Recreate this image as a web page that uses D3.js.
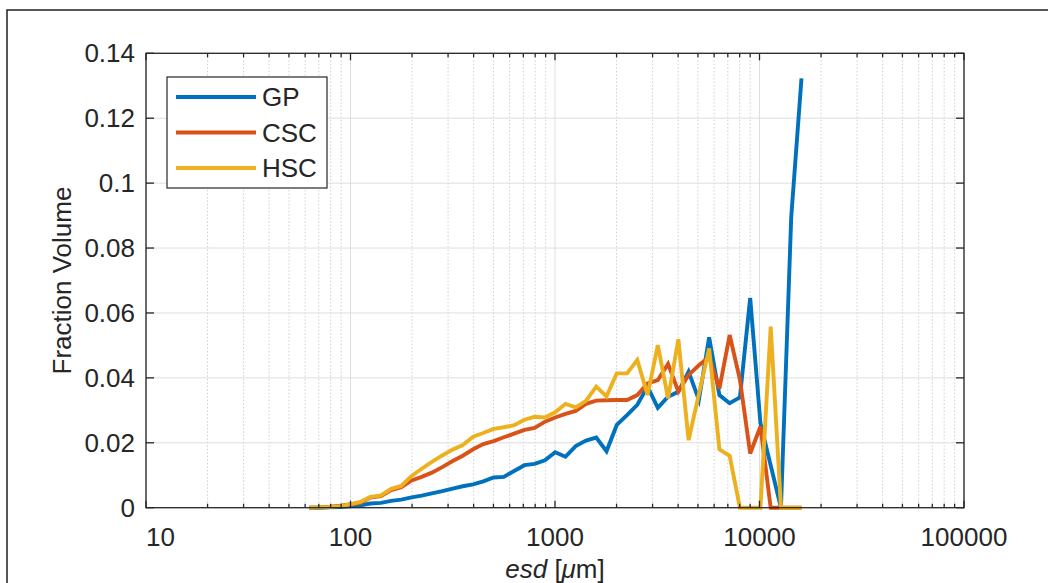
<!DOCTYPE html>
<html>
<head>
<meta charset="utf-8">
<script src="https://cdn.jsdelivr.net/npm/d3@7"></script>
<style>
  html, body { margin: 0; padding: 0; background: #fff; overflow: hidden; }
  text { font-family: "Liberation Sans", Arial, sans-serif; fill: #262626; }
</style>
</head>
<body>
<div id="psd_viz"></div>
<script>
// Data
const esdBins = [63, 70, 79, 89, 99, 112, 125, 141, 158, 177, 199, 223, 250, 281, 316, 354,
  398, 446, 501, 562, 631, 709, 795, 893, 1002, 1125, 1263, 1417, 1591, 1786, 2005, 2250,
  2526, 2835, 3183, 3572, 4010, 4501, 5053, 5672, 6366, 7146, 8021, 9004, 10107, 11345,
  12735, 14295, 16046];

const gpValues = [0, 0, 0.0001, 0.0002, 0.0004, 0.0007, 0.0013, 0.0015, 0.0021, 0.0025,
  0.0032, 0.0037, 0.0044, 0.0051, 0.0059, 0.0066, 0.0072, 0.0081, 0.0093, 0.0095, 0.0113,
  0.0131, 0.0135, 0.0146, 0.0171, 0.0157, 0.0190, 0.0207, 0.0216, 0.0174, 0.0255, 0.0285,
  0.0317, 0.0373, 0.0308, 0.0342, 0.0357, 0.0419, 0.0332, 0.0525, 0.0347, 0.0322, 0.0340,
  0.0646, 0.0260, 0.0130, 0, 0.0896, 0.1323];

const cscValues = [0, 0.0001, 0.0003, 0.0006, 0.0010, 0.0015, 0.0031, 0.0036, 0.0054, 0.0063,
  0.0084, 0.0095, 0.0108, 0.0125, 0.0144, 0.0160, 0.0180, 0.0196, 0.0205, 0.0217, 0.0228,
  0.0240, 0.0246, 0.0265, 0.0278, 0.0289, 0.0298, 0.0320, 0.0330, 0.0331, 0.0332, 0.0332,
  0.0347, 0.0383, 0.0393, 0.0443, 0.0358, 0.0409, 0.0439, 0.0464, 0.0367, 0.0532, 0.0395,
  0.0167, 0.0250, 0, 0, 0, 0];

const hscValues = [0, 0.0001, 0.0002, 0.0005, 0.0010, 0.0018, 0.0033, 0.0038, 0.0058, 0.0067,
  0.0098, 0.0120, 0.0141, 0.0161, 0.0179, 0.0193, 0.0219, 0.0230, 0.0243, 0.0248, 0.0254,
  0.0271, 0.0280, 0.0278, 0.0294, 0.0320, 0.0309, 0.0329, 0.0373, 0.0343, 0.0414, 0.0414,
  0.0455, 0.0347, 0.0501, 0.0337, 0.0519, 0.0208, 0.0350, 0.0491, 0.0180, 0.0160, 0,
  0, 0, 0.0558, 0, 0, 0];

const seriesNames = ["GP", "CSC", "HSC"];
const seriesColors = ["#0072BD", "#D95319", "#EDB120"];

const xTickValues = [10, 100, 1000, 10000, 100000];
const xTickLabels = ["10", "100", "1000", "10000", "100000"];
const yTickValues = [0, 0.02, 0.04, 0.06, 0.08, 0.1, 0.12, 0.14];
const yTickLabels = ["0", "0.02", "0.04", "0.06", "0.08", "0.1", "0.12", "0.14"];

// Set up dimensions
let dimensions = {
  width: 1048,
  height: 583,
  margin: {top: 53.3, right: 84, bottom: 75.3, left: 146},
}
dimensions.boundedWidth = dimensions.width - dimensions.margin.left - dimensions.margin.right
dimensions.boundedHeight = dimensions.height - dimensions.margin.top - dimensions.margin.bottom

// Set up scales
const xScale = d3.scaleLog()
  .domain([10, 100000])
  .range([0, dimensions.boundedWidth]);

const yScale = d3.scaleLinear()
  .domain([0, 0.14])
  .range([dimensions.boundedHeight, 0]);

const axisColor = "#262626";
const fontSize = 26;

function drawChart() {
  const svg = d3.select("#psd_viz")
    .append("svg")
      .attr("width", dimensions.width)
      .attr("height", dimensions.height)

  // Outer figure frame (cropped at right and bottom)
  svg.append("rect")
    .attr("x", 7)
    .attr("y", 10)
    .attr("width", 1200)
    .attr("height", 800)
    .attr("fill", "none")
    .attr("stroke", "#222")
    .attr("stroke-width", 1.5)

  const bounds = svg.append("g")
    .attr("transform", `translate(${dimensions.margin.left}, ${dimensions.margin.top})`)

  // Grid
  const grid = bounds.append("g")
  const minorX = xScale.ticks().filter(d => !xTickValues.includes(d))

  grid.selectAll(".minor-x")
    .data(minorX)
    .join("line")
      .attr("x1", d => xScale(d))
      .attr("x2", d => xScale(d))
      .attr("y1", 0)
      .attr("y2", dimensions.boundedHeight)
      .attr("stroke", "#cfcfcf")
      .attr("stroke-width", 1)
      .attr("stroke-dasharray", "1.5,2")

  grid.selectAll(".major-x")
    .data(xTickValues)
    .join("line")
      .attr("x1", d => xScale(d))
      .attr("x2", d => xScale(d))
      .attr("y1", 0)
      .attr("y2", dimensions.boundedHeight)
      .attr("stroke", "#dedede")
      .attr("stroke-width", 1)

  grid.selectAll(".major-y")
    .data(yTickValues)
    .join("line")
      .attr("x1", 0)
      .attr("x2", dimensions.boundedWidth)
      .attr("y1", d => yScale(d))
      .attr("y2", d => yScale(d))
      .attr("stroke", "#dedede")
      .attr("stroke-width", 1)

  // Series lines
  const lineGen = d3.line()
    .x(d => xScale(d[0]))
    .y(d => yScale(d[1]));

  const allSeries = [gpValues, cscValues, hscValues];
  const lines = bounds.append("g")
  allSeries.forEach((values, i) => {
    lines.append("path")
      .datum(esdBins.map((x, j) => [x, values[j]]))
      .attr("d", lineGen)
      .attr("fill", "none")
      .attr("stroke", seriesColors[i])
      .attr("stroke-width", 3.9)
      .attr("stroke-linejoin", "miter")
      .attr("stroke-miterlimit", 4)
  })

  // Axes box and inward ticks
  const peripherals = bounds.append("g")
  peripherals.append("rect")
    .attr("x", 0)
    .attr("y", 0)
    .attr("width", dimensions.boundedWidth)
    .attr("height", dimensions.boundedHeight)
    .attr("fill", "none")
    .attr("stroke", axisColor)
    .attr("stroke-width", 1.3)

  const xTicks = [
    ...xTickValues.map(d => ({v: d, len: 7})),
    ...minorX.map(d => ({v: d, len: 4})),
  ]
  ;[0, dimensions.boundedHeight].forEach(yEdge => {
    const dir = yEdge === 0 ? 1 : -1
    peripherals.append("g").selectAll("line")
      .data(xTicks)
      .join("line")
        .attr("x1", d => xScale(d.v))
        .attr("x2", d => xScale(d.v))
        .attr("y1", yEdge)
        .attr("y2", d => yEdge + dir * d.len)
        .attr("stroke", axisColor)
        .attr("stroke-width", 1.3)
  })
  ;[0, dimensions.boundedWidth].forEach(xEdge => {
    const dir = xEdge === 0 ? 1 : -1
    peripherals.append("g").selectAll("line")
      .data(yTickValues)
      .join("line")
        .attr("x1", xEdge)
        .attr("x2", xEdge + dir * 8)
        .attr("y1", d => yScale(d))
        .attr("y2", d => yScale(d))
        .attr("stroke", axisColor)
        .attr("stroke-width", 1.3)
  })

  // Tick labels
  peripherals.append("g").selectAll("text")
    .data(yTickValues)
    .join("text")
      .attr("x", -11)
      .attr("y", d => yScale(d))
      .attr("dy", "0.35em")
      .attr("text-anchor", "end")
      .style("font-size", fontSize + "px")
      .text((d, i) => yTickLabels[i])

  peripherals.append("g").selectAll("text")
    .data(xTickValues)
    .join("text")
      .attr("x", d => xScale(d))
      .attr("y", dimensions.boundedHeight + 38.5)
      .attr("text-anchor", (d, i) => i === 0 ? "start" : "middle")
      .style("font-size", fontSize + "px")
      .text((d, i) => xTickLabels[i])

  // Axis labels
  const xLabel = peripherals.append("text")
    .attr("x", dimensions.boundedWidth / 2)
    .attr("y", dimensions.boundedHeight + 70)
    .attr("text-anchor", "middle")
    .style("font-size", fontSize + "px")
  xLabel.append("tspan").style("font-style", "italic").text("esd")
  xLabel.append("tspan").text(" [")
  xLabel.append("tspan").style("font-style", "italic").text("\u03bc")
  xLabel.append("tspan").text("m]")

  peripherals.append("text")
    .attr("transform", `translate(${-75}, ${dimensions.boundedHeight / 2}) rotate(-90)`)
    .attr("text-anchor", "middle")
    .style("font-size", fontSize + "px")
    .text("Fraction Volume")

  // Legend
  const legend = peripherals.append("g")
    .attr("transform", `translate(${167 - dimensions.margin.left}, ${77 - dimensions.margin.top})`)
  legend.append("rect")
    .attr("width", 160)
    .attr("height", 111)
    .attr("fill", "#fff")
    .attr("stroke", axisColor)
    .attr("stroke-width", 1.2)

  const legendRows = legend.selectAll(".row")
    .data(seriesNames)
    .join("g")
      .attr("transform", (d, i) => `translate(0, ${20 + i * 35.5})`)
  legendRows.append("line")
    .attr("x1", 9)
    .attr("x2", 89)
    .attr("stroke", (d, i) => seriesColors[i])
    .attr("stroke-width", 3.9)
  legendRows.append("text")
    .attr("x", 95)
    .attr("dy", "0.35em")
    .style("font-size", fontSize + "px")
    .text(d => d)
}

drawChart();
</script>
</body>
</html>
